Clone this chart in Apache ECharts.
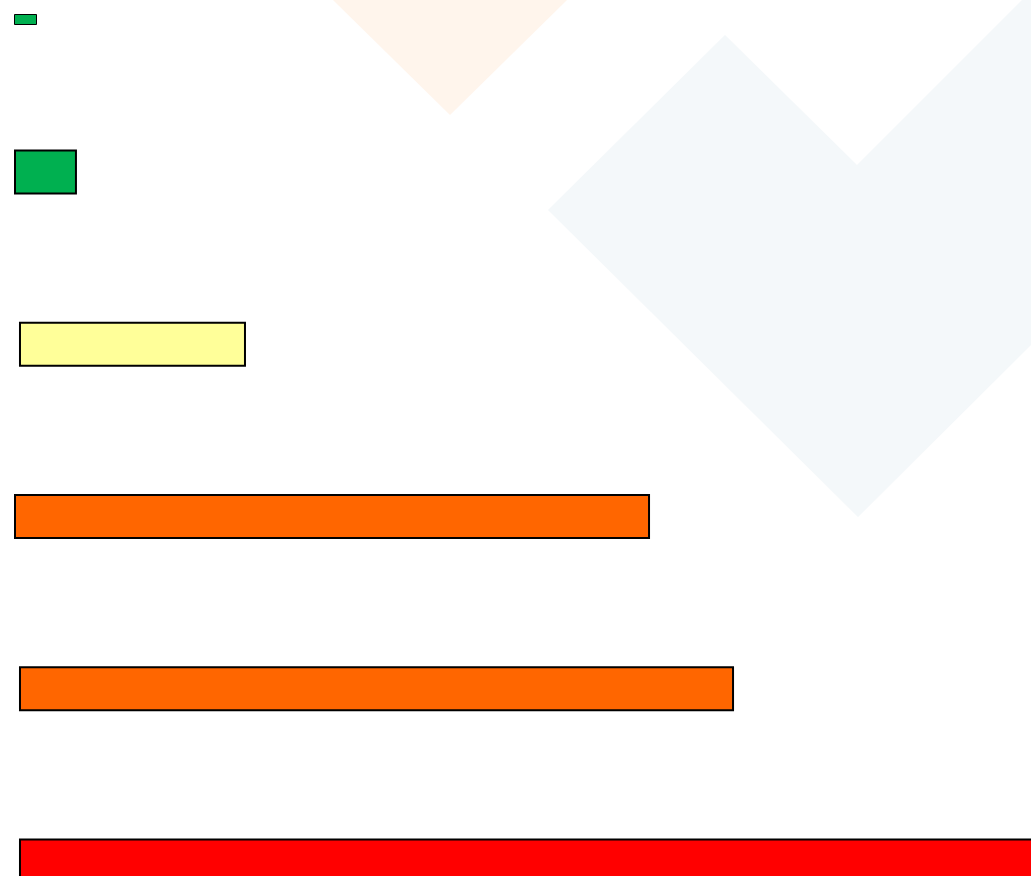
<!DOCTYPE html>
<html>
<head>
<meta charset="utf-8">
<script src="https://cdn.jsdelivr.net/npm/echarts@6/dist/echarts.min.js"></script>
<style>html,body{margin:0;padding:0;background:#fff}#c{width:1031px;height:876px}</style>
</head>
<body>
<div id="c"></div>
<script>
// Data (axis units: 0..100 across the plot width)
const categories = ['A', 'B', 'C', 'D', 'E'];
const barStarts = [0, 0.49, 0, 0.49, 0.49];
const barEnds = [6.19, 22.81, 62.54, 70.80, 110];
const barColors = ['#00B050', '#FFFF99', '#FF6600', '#FF6600', '#FF0000'];
const seriesName = 'Series';

const lengths = barEnds.map((e, i) => +(e - barStarts[i]).toFixed(2));

const chart = echarts.init(document.getElementById('c'), null, {renderer: 'canvas'});
chart.setOption({
  backgroundColor: '#ffffff',
  animation: false,
  graphic: [
    {type: 'polygon', silent: true, z: -10,
     shape: {points: [[333, 0], [567, 0], [450, 115]]},
     style: {fill: '#FFF5EC'}},
    {type: 'polygon', silent: true, z: -10,
     shape: {points: [[548, 210], [725, 35], [857, 165], [1022, 0], [1031, 0], [1031, 345], [858, 517]]},
     style: {fill: '#F4F8FA'}}
  ],
  legend: {
    data: [seriesName],
    left: 14, top: 14, padding: 0,
    itemWidth: 22, itemHeight: 10,
    icon: 'rect',
    formatter: () => '',
    itemStyle: {color: '#00B050', borderColor: '#000', borderWidth: 1}
  },
  grid: {left: 14, right: 0, top: 172, bottom: 15, containLabel: false},
  xAxis: {
    type: 'value', min: 0, max: 100,
    show: false, splitLine: {show: false}
  },
  yAxis: {
    type: 'category', data: categories, inverse: true,
    boundaryGap: false,
    show: false
  },
  series: [
    {
      name: 'base', type: 'bar', stack: 'r',
      data: barStarts,
      barWidth: 45,
      clip: false,
      itemStyle: {color: 'transparent', borderWidth: 0},
      silent: true
    },
    {
      name: seriesName, type: 'bar', stack: 'r',
      barWidth: 45,
      clip: false,
      itemStyle: {color: '#00B050', borderColor: '#000', borderWidth: 2},
      data: lengths.map((v, i) => ({value: v, itemStyle: {color: barColors[i]}}))
    }
  ]
});
</script>
</body>
</html>
